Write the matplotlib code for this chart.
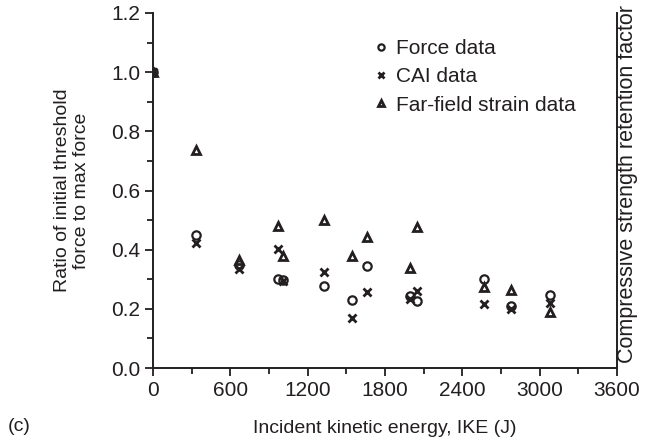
import matplotlib
matplotlib.use("Agg")
import matplotlib.pyplot as plt
from matplotlib.ticker import MultipleLocator

plt.rcParams['font.family'] = ['Liberation Sans', 'DejaVu Sans']

ike = [0, 330, 665, 970, 1006, 1329, 1546, 1663, 1994, 2051, 2571, 2775, 3080]
force = [1.0, 0.451, 0.347, 0.302, 0.298, 0.276, 0.231, 0.345, 0.243, 0.225, 0.302, 0.209, 0.246]
cai = [1.0, 0.422, 0.336, 0.403, 0.293, 0.324, 0.168, 0.257, 0.232, 0.260, 0.218, 0.200, 0.220]
strain = [1.0, 0.736, 0.366, 0.481, 0.380, 0.500, 0.377, 0.444, 0.339, 0.478, 0.274, 0.263, 0.189]

xticks = [0, 600, 1200, 1800, 2400, 3000, 3600]
yticks = [0.0, 0.2, 0.4, 0.6, 0.8, 1.0, 1.2]

col = '#231f20'
fig = plt.figure(figsize=(6.53, 4.42), dpi=100)
ax = fig.add_axes([0.2343, 0.1674, 0.7106, 0.8032])

ax.plot(ike, force, linestyle='none', marker='o', ms=6, mfc='none', mec=col, mew=1.6, label='Force data')
ax.plot(ike, cai, linestyle='none', marker='x', ms=6, mec=col, mew=2.0, label='CAI data')
ax.plot(ike, strain, linestyle='none', marker='^', ms=6, mfc='none', mec=col, mew=2.0, label='Far-field strain data')

ax.set_xlim(0, 3600)
ax.set_ylim(0, 1.2)
ax.set_xticks(xticks)
ax.set_yticks(yticks)
ax.set_yticklabels([f'{v:.1f}' for v in yticks])
ax.xaxis.set_minor_locator(MultipleLocator(300))
ax.yaxis.set_minor_locator(MultipleLocator(0.1))
ax.tick_params(which='both', direction='out', colors=col, labelsize=15, width=1.3, right=False, top=False)
ax.tick_params(which='major', length=6)
ax.tick_params(which='minor', length=4)
ax.tick_params(axis='x', pad=3)
ax.tick_params(axis='y', pad=3)

ax.spines['top'].set_visible(False)
for s in ['left', 'bottom', 'right']:
    ax.spines[s].set_linewidth(1.4)
    ax.spines[s].set_color(col)

ax.set_xlabel('Incident kinetic energy, IKE (J)', fontsize=14, color=col, labelpad=15)
ax.set_ylabel('Ratio of initial threshold\nforce to max force', fontsize=14, color=col, labelpad=15, linespacing=1.2)
fig.text(0.961, 0.583, 'Compressive strength retention factor', rotation=90, fontsize=15.5,
         color=col, ha='center', va='center')
fig.text(0.012, 0.035, '(c)', fontsize=14, color=col, ha='left', va='center')

leg = ax.legend(loc='upper left', bbox_to_anchor=(0.428, 0.98), frameon=False, fontsize=15,
                handletextpad=0.25, labelspacing=0.45, handlelength=1.0, markerscale=0.75,
                labelcolor=col)

fig.savefig('out.png', dpi=100)
